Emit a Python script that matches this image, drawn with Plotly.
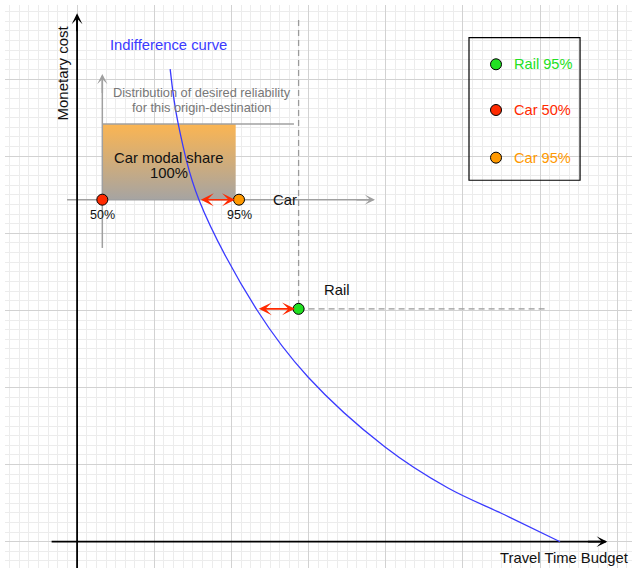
import plotly.graph_objects as go

# ---------------- data (diagram units: 1 = one major grid cell, origin where the two main axes cross)
curve_x = [1.206, 1.308, 1.580, 2.331, 2.992, 3.990, 4.806, 5.545, 6.258]
curve_y = [6.129, 5.431, 4.432, 3.005, 2.136, 1.228, 0.696, 0.346, 0.000]

rail_x = [2.87]
rail_y = [3.02]

car_x = [0.327, 2.098]
car_y = [4.436, 4.436]
car_labels = ["50%", "95%"]

legend_labels = ["Rail 95%", "Car 50%", "Car 95%"]
legend_y = [6.192, 5.599, 4.981]

share_box_x = [0.327, 2.055]
share_box_y = [4.436, 5.418]

# ---------------- styles
FONT = "Liberation Sans, Arial, Helvetica, sans-serif"
GREEN, RED, ORANGE = "#22e022", "#ff2a00", "#ff9900"
BLUE = "#3a3aff"
GRAY = "#a0a0a0"
legend_colors = [GREEN, RED, ORANGE]

X_RANGE = [-0.934, 7.190]
Y_RANGE = [-0.341, 6.961]

fig = go.Figure()

# gradient "modal share" block
fig.add_trace(go.Scatter(
    x=[share_box_x[0], share_box_x[1], share_box_x[1], share_box_x[0], share_box_x[0]],
    y=[share_box_y[0], share_box_y[0], share_box_y[1], share_box_y[1], share_box_y[0]],
    mode="lines", fill="toself", line=dict(width=0),
    fillgradient=dict(type="vertical", colorscale=[[0, "#a6a4a2"], [1, "#fbb552"]]),
    hoverinfo="skip", showlegend=False))

def seg(xs, ys, color, width, dash="solid"):
    fig.add_trace(go.Scatter(x=xs, y=ys, mode="lines",
                             line=dict(color=color, width=width, dash=dash),
                             hoverinfo="skip", showlegend=False))

# top edge of the distribution block
seg([share_box_x[0], 2.81], [share_box_y[1], share_box_y[1]], GRAY, 1.5)
# inset axes (gray)
seg([-0.13, 3.84], [car_y[0], car_y[0]], GRAY, 1.5)
seg([car_x[0], car_x[0]], [3.81, 6.04], GRAY, 1.5)
# dashed guides to rail point
seg([rail_x[0], rail_x[0]], [6.767, rail_y[0]], "#9a9a9a", 1.3, "6px,4px")
seg([rail_x[0], 6.106], [rail_y[0], rail_y[0]], "#9a9a9a", 1.3, "6px,4px")
# main axes (black)
seg([0, 0], [Y_RANGE[0], 6.83], "black", 1.8)
seg([-0.33, 6.85], [0, 0], "black", 1.8)

# indifference curve
fig.add_trace(go.Scatter(x=curve_x, y=curve_y, mode="lines",
                         line=dict(color=BLUE, width=1.3, shape="spline", smoothing=1.0),
                         hoverinfo="skip", showlegend=False))

# points
mk = dict(size=11, line=dict(color="black", width=1))
fig.add_trace(go.Scatter(x=rail_x, y=rail_y, mode="markers",
                         marker=dict(color=GREEN, **mk), showlegend=False, hoverinfo="skip"))
fig.add_trace(go.Scatter(x=car_x, y=car_y, mode="markers",
                         marker=dict(color=[RED, ORANGE], **mk), showlegend=False, hoverinfo="skip"))
fig.add_trace(go.Scatter(x=[5.428] * 3, y=legend_y, mode="markers",
                         marker=dict(color=legend_colors, **mk), showlegend=False, hoverinfo="skip"))

ann = []

def arrow(x, y, ax, ay, color, width, size, both=False):
    d = dict(x=x, y=y, ax=ax, ay=ay, xref="x", yref="y", axref="x", ayref="y",
             text="", showarrow=True, arrowhead=3, arrowsize=size, arrowwidth=width,
             arrowcolor=color, standoff=0, startstandoff=0)
    if both:
        d.update(arrowside="end+start", startarrowhead=3, startarrowsize=size)
    ann.append(d)

# arrowheads for axes
arrow(0, 6.853, 0, 6.6, "black", 1.8, 1.0)
arrow(6.87, 0, 6.6, 0, "black", 1.8, 1.0)
arrow(3.86, car_y[0], 3.6, car_y[0], GRAY, 1.5, 1.15)
arrow(car_x[0], 6.066, car_x[0], 5.8, GRAY, 1.5, 1.15)
# red double arrows
arrow(2.046, car_y[0], 1.584, car_y[0], RED, 1.6, 1.35, both=True)
arrow(2.824, rail_y[0], 2.335, rail_y[0], RED, 1.6, 1.35, both=True)

def txt(x, y, s, size=14.8, color="#111111", xanchor="center", angle=0):
    ann.append(dict(x=x, y=y, xref="x", yref="y", text=s, showarrow=False,
                    xanchor=xanchor, yanchor="middle", textangle=angle,
                    font=dict(family=FONT, size=size, color=color)))

txt(-0.183, 6.085, "Monetary cost", size=15, angle=-90)
txt(7.165, -0.211, "Travel Time Budget", xanchor="right")
txt(1.182, 6.442, "Indifference curve", color=BLUE)
txt(1.615, 5.824, "Distribution of desired reliability", size=12.8, color="#777777")
txt(1.615, 5.629, "for this origin-destination", size=12.8, color="#777777")
txt(1.187, 4.981, "Car modal share", size=14.8)
txt(1.187, 4.778, "100%", size=14.8)
txt(2.509, 4.435, "Car", xanchor="left")
txt(3.170, 3.265, "Rail", xanchor="left")
for cx, lab in zip(car_x, car_labels):
    txt(cx, 4.240, lab, size=12.5)
for ly, lab, col in zip(legend_y, legend_labels, legend_colors):
    txt(5.64, ly, lab, size=14.6, color=col, xanchor="left")

shapes = [dict(type="rect", xref="x", yref="y", x0=5.078, x1=6.517, y0=4.688, y1=6.539,
               line=dict(color="black", width=1.2), fillcolor="rgba(0,0,0,0)", layer="above")]

axis_common = dict(showticklabels=False, ticks="", zeroline=False, showline=False,
                   showgrid=True, gridcolor="#d2d2d2", gridwidth=1, tick0=0, dtick=1,
                   minor=dict(dtick=0.125, tick0=0, showgrid=True, gridcolor="#ececec", gridwidth=1),
                   fixedrange=True)

fig.update_layout(
    width=632, height=568,
    margin=dict(l=5, r=0, t=5, b=0),
    paper_bgcolor="white", plot_bgcolor="white",
    xaxis=dict(range=X_RANGE, **axis_common),
    yaxis=dict(range=Y_RANGE, **axis_common),
    annotations=ann, shapes=shapes, showlegend=False,
)

fig.write_html("out.html", config={"displayModeBar": False},
               post_script="document.body.style.margin='0px';document.body.style.overflow='hidden';")
